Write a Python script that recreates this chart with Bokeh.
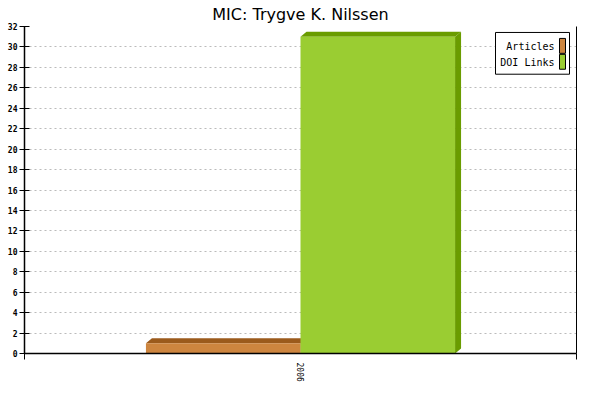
from bokeh.plotting import figure
from bokeh.models import Range1d, LinearAxis, FixedTicker
from bokeh.core.properties import value
from bokeh.embed import file_html
from bokeh.resources import INLINE

# data
years = ["2006"]
articles = [1]
doi_links = [31]
series_names = ["Articles", "DOI Links"]
y_ticks = list(range(0, 33, 2))

front_colors = ["#CD853F", "#9ACD32"]
dark_colors = ["#9B5A1C", "#6A9C00"]

W, H = 584, 384
BL, BR, BT, BB = 24, 8, 0, 31
frame_top = 24
frame_w = W - BL - BR
frame_h = H - frame_top - BB
y_max = 32

p = figure(width=W, height=H, output_backend="svg", toolbar_location=None,
           x_range=Range1d(0, len(years)), y_range=Range1d(0, y_max),
           min_border_left=BL, min_border_right=BR, min_border_top=BT,
           min_border_bottom=BB, x_axis_location=None, y_axis_location=None)
p.outline_line_color = None
p.background_fill_color = "white"
p.xgrid.visible = False
p.ygrid.ticker = FixedTicker(ticks=y_ticks)
p.ygrid.grid_line_color = "#bbbbbb"
p.ygrid.grid_line_dash = "2 3"

p.title.text = "MIC: Trygve K. Nilssen"
p.title.align = "center"
p.title.text_font = "DejaVu Sans"
p.title.text_font_size = "16px"
p.title.text_font_style = "normal"
p.title.text_color = "black"
p.title.standoff = 5
p.title.offset = 0

# y axis
yax = LinearAxis(ticker=FixedTicker(ticks=y_ticks))
yax.axis_line_width = 1.5
yax.major_tick_in = 5
yax.major_tick_out = 5
yax.minor_tick_line_color = None
yax.major_label_standoff = 2
yax.major_label_text_font = "DejaVu Sans Mono"
yax.major_label_text_font_size = "8px"
yax.major_label_text_font_style = "bold"
yax.major_label_text_color = "black"
p.add_layout(yax, "left")

# right border axis
rax = LinearAxis(ticker=FixedTicker(ticks=[]))
rax.major_tick_line_color = None
rax.minor_tick_line_color = None
p.add_layout(rax, "right")

# x axis
centers = [i + 0.5 for i in range(len(years))]
xax = LinearAxis(ticker=FixedTicker(ticks=centers,
                                    minor_ticks=list(range(len(years) + 1))))
xax.axis_line_width = 1.5
xax.major_tick_line_color = None
xax.major_tick_out = 0
xax.minor_tick_in = 0
xax.minor_tick_out = 6
xax.major_label_overrides = {c: y for c, y in zip(centers, years)}
xax.major_label_orientation = "vertical"
xax.major_label_standoff = 3
xax.major_label_text_font = "DejaVu Sans Mono"
xax.major_label_text_font_size = "8px"
xax.major_label_text_color = "black"
p.add_layout(xax, "below")

# 3d bars
bar_w = 0.28
dx = 6 / frame_w * len(years)
dy = 5 / frame_h * y_max
for s, vals in enumerate([articles, doi_links]):
    for c, v in zip(centers, vals):
        l = c - bar_w + s * bar_w
        r = l + bar_w
        p.patch([r, r, r + dx, r + dx], [0, v, v + dy, dy],
                fill_color=dark_colors[s], line_color=None)
        p.patch([l, l + dx, r + dx, r], [v, v + dy, v + dy, v],
                fill_color=dark_colors[s], line_color=None)
        p.quad(left=l, right=r, bottom=0, top=v,
               fill_color=front_colors[s], line_color=None)

# legend (swatches on the right like the original)
def px_x(px):
    return (px - BL) / frame_w * len(years)

def px_y(py):
    return y_max - (py - frame_top) / frame_h * y_max

p.quad(left=px_x(495), right=px_x(569), top=px_y(30), bottom=px_y(72),
       fill_color="white", line_color="black", line_width=1)
swatch_rows = [(36, 51), (52, 67)]
text_rows = [44, 60]
for name, col, (t, b), ty in zip(series_names, front_colors, swatch_rows, text_rows):
    p.quad(left=px_x(559), right=px_x(565), top=px_y(t), bottom=px_y(b),
           fill_color=col, line_color="black", line_width=1)
    p.text(x=[px_x(554)], y=[px_y(ty)], text=[name],
           text_align="right", text_baseline="middle", text_color="black",
           text_font=value("DejaVu Sans Mono"), text_font_size="10px")

open("out.html", "w").write(file_html(p, INLINE))
